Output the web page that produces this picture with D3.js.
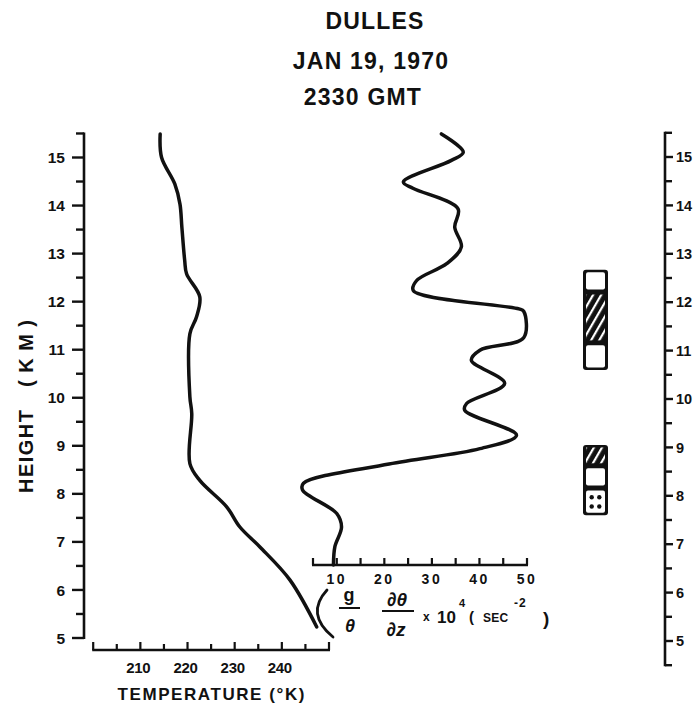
<!DOCTYPE html>
<html>
<head>
<meta charset="utf-8">
<script src="https://cdn.jsdelivr.net/npm/d3@7/dist/d3.min.js"></script>
<style>
  html, body { margin: 0; padding: 0; background: #fff; }
  svg { display: block; }
  text { font-family: "Liberation Sans", Arial, sans-serif; font-weight: bold; fill: #111; }
</style>
</head>
<body>
<svg id="chart" width="694" height="709"></svg>
<script>
// ---------------- DATA ----------------
const titleLines = ["DULLES", "JAN 19, 1970", "2330 GMT"];

// Temperature profile (K) vs height (km)
const tempHeight = [15.49, 15.0, 14.45, 14.03, 13.55, 12.86, 12.58, 12.10, 11.68, 11.33, 10.02, 9.67, 8.63, 8.28, 7.73, 7.31, 6.90, 6.21, 5.23];
const tempValue  = [214.2, 214.5, 217.3, 218.4, 218.8, 219.4, 219.8, 222.6, 221.9, 220.5, 220.5, 220.9, 220.5, 222.6, 228.3, 231.1, 235.3, 241.7, 247.4];

// Static stability (g/θ dθ/dz x 10^4 sec^-2) vs height (km)
const stabHeight = [15.49, 15.11, 14.94, 14.49, 14.36, 13.93, 13.55, 13.14, 12.79, 12.44, 12.23, 11.85, 11.80, 11.25, 10.99, 10.78, 10.30, 9.88, 9.74, 9.22, 8.94, 8.62, 8.22, 8.08, 7.59, 7.31, 6.90, 6.52];
const stabValue  = [32.0, 36.6, 34.1, 24.0, 26.0, 35.5, 34.8, 36.2, 33.1, 26.8, 26.1, 48.3, 49.3, 49.3, 40.1, 38.3, 45.3, 37.3, 36.9, 47.8, 40.1, 21.0, 3.0, 2.8, 10.0, 11.0, 9.6, 9.3];

// Height axis ticks (km)
const heightTicks = [5, 6, 7, 8, 9, 10, 11, 12, 13, 14, 15];
const heightMinor = [4.5, 5.5, 6.5, 7.5, 8.5, 9.5, 10.5, 11.5, 12.5, 13.5, 14.5, 15.5];
// Temperature axis ticks (K)
const tempTicks = [200, 205, 210, 215, 220, 225, 230, 235, 240, 245, 250];
const tempLabels = [210, 220, 230, 240];
// Stability axis ticks
const stabTicks = [5, 10, 15, 20, 25, 30, 35, 40, 45, 50];
const stabLabels = [10, 20, 30, 40, 50];

// Layer indicator boxes (km) and their fill types
const upperLayerLo   = [12.21, 11.16, 10.60];
const upperLayerHi   = [12.67, 12.21, 11.16];
const upperLayerType = ["clear", "hatch", "clear"];
const lowerLayerLo   = [8.62, 8.16, 7.60];
const lowerLayerHi   = [9.05, 8.62, 8.16];
const lowerLayerType = ["hatch", "clear", "dots"];

// ---------------- CHART ----------------
const svg = d3.select("#chart");
const ink = "#111";

const defs = svg.append("defs");
const pat = defs.append("pattern")
  .attr("id", "hatch").attr("patternUnits", "userSpaceOnUse")
  .attr("width", 7).attr("height", 7)
  .attr("patternTransform", "rotate(30)");
pat.append("rect").attr("width", 7).attr("height", 7).attr("fill", ink);
pat.append("rect").attr("x", 2).attr("width", 2.2).attr("height", 7).attr("fill", "#fff");

// scales
const yL = d3.scaleLinear().domain([5, 15]).range([638, 157.5]);
const yR = d3.scaleLinear().domain([5, 15]).range([641, 157]);
const xT = d3.scaleLinear().domain([200, 250]).range([93.2, 329]);
const xS = d3.scaleLinear().domain([5, 50]).range([313, 527]);

// Title
const titleY = [29, 69, 105];
const titleX = [375, 371, 363];
svg.selectAll("text.title").data(titleLines).join("text")
  .attr("class", "title")
  .attr("x", (d, i) => titleX[i]).attr("y", (d, i) => titleY[i])
  .attr("text-anchor", "middle")
  .attr("font-size", 23).attr("letter-spacing", 1.2)
  .text(d => d);

// Left height axis
const leftX = 84;
const gL = svg.append("g");
gL.append("line").attr("class", "dom").attr("x1", leftX).attr("x2", leftX)
  .attr("y1", yL(15.5) - 1).attr("y2", yL(5) + 1)
  .attr("stroke", ink).attr("stroke-width", 2.6);
gL.selectAll("line.maj").data(heightTicks).join("line").attr("class", "maj")
  .attr("x1", leftX - 12).attr("x2", leftX).attr("y1", d => yL(d)).attr("y2", d => yL(d))
  .attr("stroke", ink).attr("stroke-width", 2.4);
gL.selectAll("line.min").data(heightMinor.filter(d => d >= 5)).join("line").attr("class", "min")
  .attr("x1", leftX - 8).attr("x2", leftX).attr("y1", d => yL(d)).attr("y2", d => yL(d))
  .attr("stroke", ink).attr("stroke-width", 2.4);
gL.selectAll("text").data(heightTicks).join("text")
  .attr("x", leftX - 19).attr("y", d => yL(d)).attr("dy", "0.36em")
  .attr("text-anchor", "end").attr("font-size", 15.5)
  .text(d => d);
// rotated axis title
svg.append("text")
  .attr("transform", "translate(33,451.5) rotate(-90)")
  .attr("text-anchor", "middle").attr("font-size", 20)
  .attr("textLength", 83).attr("lengthAdjust", "spacing")
  .text("HEIGHT");
svg.append("text")
  .attr("transform", "translate(33,353.5) rotate(-90)")
  .attr("text-anchor", "middle").attr("font-size", 20)
  .attr("textLength", 67).attr("lengthAdjust", "spacing")
  .text("(KM)");

// Right height axis
const rightX = 665;
const gR = svg.append("g");
gR.append("line").attr("class", "dom").attr("x1", rightX).attr("x2", rightX)
  .attr("y1", yR(15.5) - 1).attr("y2", yR(4.5) + 1)
  .attr("stroke", ink).attr("stroke-width", 2.6);
gR.selectAll("line.tk").data(heightTicks.concat(heightMinor)).join("line").attr("class", "tk")
  .attr("x1", rightX).attr("x2", d => rightX + (Number.isInteger(d) ? 8 : 7))
  .attr("y1", d => yR(d)).attr("y2", d => yR(d))
  .attr("stroke", ink).attr("stroke-width", 2.4);
gR.selectAll("text").data(heightTicks).join("text")
  .attr("x", rightX + 11).attr("y", d => yR(d)).attr("dy", "0.36em")
  .attr("text-anchor", "start").attr("font-size", 14.5)
  .text(d => d);

// Temperature axis
const tAxisY = 650;
const gT = svg.append("g");
gT.append("line").attr("class", "dom").attr("x1", xT(200) - 1).attr("x2", xT(250) + 1)
  .attr("y1", tAxisY).attr("y2", tAxisY).attr("stroke", ink).attr("stroke-width", 2.4);
gT.selectAll("line.tk").data(tempTicks).join("line").attr("class", "tk")
  .attr("x1", d => xT(d)).attr("x2", d => xT(d))
  .attr("y1", tAxisY).attr("y2", d => tAxisY - (d % 10 === 0 ? 8 : 6))
  .attr("stroke", ink).attr("stroke-width", 2.2);
gT.selectAll("text").data(tempLabels).join("text")
  .attr("x", d => xT(d) - 2).attr("y", 673)
  .attr("text-anchor", "middle").attr("font-size", 15).attr("letter-spacing", -0.3)
  .text(d => d);
svg.append("text").attr("x", 211).attr("y", 700)
  .attr("text-anchor", "middle").attr("font-size", 17)
  .attr("textLength", 187).attr("lengthAdjust", "spacing")
  .text("TEMPERATURE (°K)");

// Stability axis
const sAxisY = 565;
const gS = svg.append("g");
gS.append("line").attr("class", "dom").attr("x1", xS(5) - 1).attr("x2", xS(50) + 1)
  .attr("y1", sAxisY).attr("y2", sAxisY).attr("stroke", ink).attr("stroke-width", 2.4);
gS.selectAll("line.tk").data(stabTicks).join("line").attr("class", "tk")
  .attr("x1", d => xS(d)).attr("x2", d => xS(d))
  .attr("y1", sAxisY).attr("y2", sAxisY - 7)
  .attr("stroke", ink).attr("stroke-width", 2.2);
gS.selectAll("text").data(stabLabels).join("text")
  .attr("x", d => xS(d)).attr("y", 584)
  .attr("text-anchor", "middle").attr("font-size", 14).attr("font-weight", "normal")
  .attr("letter-spacing", 2.5)
  .text(d => d);

// Stability label formula
const fg = svg.append("g");
const br = d3.path();
br.moveTo(327, 590); br.quadraticCurveTo(305, 614, 333, 637);
fg.append("path").attr("d", br.toString()).attr("fill", "none")
  .attr("stroke", ink).attr("stroke-width", 2.8).attr("stroke-linecap", "round");
fg.append("text").attr("x", 349).attr("y", 601).attr("text-anchor", "middle").attr("font-size", 18).text("g");
fg.append("line").attr("x1", 339).attr("x2", 360).attr("y1", 608).attr("y2", 608).attr("stroke", ink).attr("stroke-width", 2);
fg.append("text").attr("x", 350).attr("y", 632).attr("text-anchor", "middle").attr("font-size", 18).attr("font-style", "italic").text("θ");
fg.append("text").attr("x", 397).attr("y", 606).attr("text-anchor", "middle").attr("font-size", 19).attr("font-style", "italic").text("∂θ");
fg.append("line").attr("x1", 382).attr("x2", 414).attr("y1", 611).attr("y2", 611).attr("stroke", ink).attr("stroke-width", 2);
fg.append("text").attr("x", 396).attr("y", 636).attr("text-anchor", "middle").attr("font-size", 19).attr("font-style", "italic").text("∂z");
fg.append("text").attr("x", 423).attr("y", 621).attr("font-size", 12).text("x");
fg.append("text").attr("x", 437).attr("y", 623).attr("font-size", 17).attr("font-weight", "normal").text("10");
fg.append("text").attr("x", 459).attr("y", 607).attr("font-size", 11).text("4");
fg.append("text").attr("x", 469).attr("y", 622).attr("font-size", 15).attr("font-weight", "normal").text("(");
fg.append("text").attr("x", 483).attr("y", 622).attr("font-size", 12).attr("letter-spacing", 0.3).text("SEC");
fg.append("text").attr("x", 514).attr("y", 607).attr("font-size", 12).attr("letter-spacing", 1).text("-2");
fg.append("text").attr("x", 543).attr("y", 625).attr("font-size", 19).text(")");

// Curves
const line = d3.line().curve(d3.curveCatmullRom.alpha(0.5));
svg.append("path")
  .attr("d", line(tempHeight.map((h, i) => [xT(tempValue[i]), yL(h)])))
  .attr("fill", "none").attr("stroke", ink).attr("stroke-width", 3.5)
  .attr("stroke-linejoin", "round").attr("stroke-linecap", "round");
svg.append("path")
  .attr("d", line(stabHeight.map((h, i) => [xS(stabValue[i]), yL(h)])))
  .attr("fill", "none").attr("stroke", ink).attr("stroke-width", 3.5)
  .attr("stroke-linejoin", "round").attr("stroke-linecap", "round");

// Layer boxes
const boxX = 583, boxW = 25;
function drawBox(lo, hi, type) {
  const g = svg.append("g");
  const top = yR(d3.max(hi)), bot = yR(d3.min(lo));
  g.append("rect").attr("x", boxX).attr("y", top).attr("width", boxW).attr("height", bot - top)
    .attr("rx", 3).attr("fill", ink);
  lo.forEach((l, i) => {
    const y0 = yR(hi[i]) + 2.5, y1 = yR(l) - 2.5;
    const x0 = boxX + 3, w = boxW - 6, h = y1 - y0;
    if (type[i] === "hatch") {
      g.append("rect").attr("x", x0).attr("y", y0).attr("width", w).attr("height", h)
        .attr("fill", "url(#hatch)");
    } else {
      g.append("rect").attr("x", x0).attr("y", y0).attr("width", w).attr("height", h)
        .attr("rx", 2).attr("fill", "#fff");
      if (type[i] === "dots") {
        [[0.3, 0.3], [0.7, 0.3], [0.3, 0.72], [0.7, 0.72]].forEach(([fx, fy]) => {
          g.append("circle").attr("cx", x0 + fx * w).attr("cy", y0 + fy * h).attr("r", 2.2).attr("fill", ink);
        });
      }
    }
  });
}
drawBox(upperLayerLo, upperLayerHi, upperLayerType);
drawBox(lowerLayerLo, lowerLayerHi, lowerLayerType);
</script>
</body>
</html>
